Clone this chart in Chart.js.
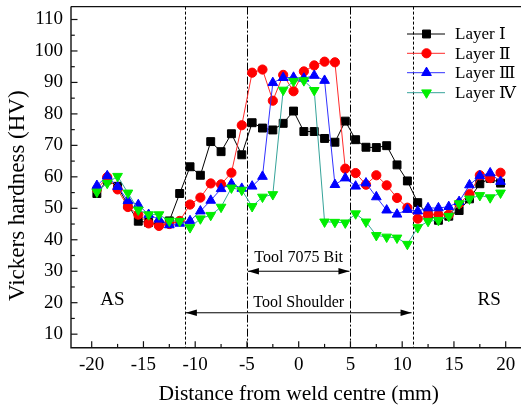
<!DOCTYPE html>
<html><head><meta charset="utf-8">
<script src="https://cdn.jsdelivr.net/npm/chart.js@4/dist/chart.umd.min.js"></script>
<style>html,body{margin:0;padding:0;background:#fff;overflow:hidden;}#wrap{width:533px;height:407px;}</style>
</head><body><div id="wrap"><canvas id="c" width="533" height="407"></canvas></div>
<script>
const distances = [-19.5,-18.5,-17.5,-16.5,-15.5,-14.5,-13.5,-12.5,-11.5,-10.5,-9.5,-8.5,-7.5,-6.5,-5.5,-4.5,-3.5,-2.5,-1.5,-0.5,0.5,1.5,2.5,3.5,4.5,5.5,6.5,7.5,8.5,9.5,10.5,11.5,12.5,13.5,14.5,15.5,16.5,17.5,18.5,19.5];
const layer1 = [54.7,59,57,51,45.9,45.5,45,46,54.7,63.2,60.5,71.2,68,73.7,67,77.2,75.5,74.9,77,80.9,74.4,74.4,72.2,71,77.7,71.8,69.4,69.3,69.9,63.8,58.7,51.8,48,46.2,47.5,49.3,53,57.8,59.5,58];
const layer2 = [56,59.9,56,50.4,48,45.2,44.4,45,46,51.2,53.4,57.9,57.6,61.3,76.4,93.1,94.1,84.2,92.4,87.2,93.5,95.4,96.6,96.4,62.6,61.2,57.5,60.5,57.3,53.3,50.2,46.7,48,48,48,51.5,54.5,60.5,59.6,61.3];
const layer3 = [57.2,60.3,56.9,52.4,51.1,48,46.5,44.7,45.2,46,49.1,52.5,56.2,57.8,56.3,57,60.1,89.9,91.5,91.6,91.3,92.2,90.6,57.5,59.6,57,58,53.6,49.4,48.1,49.6,49.1,50.1,50.1,50.5,52.1,57.4,60.3,61.2,58.5];
const layer4 = [55.2,58,60.2,54.9,49.5,48,48,46,45.9,43.9,46.7,47.8,50.4,56.5,55.8,50.6,53.6,54.4,87.6,90.4,90.6,87.5,45.7,45.6,45.4,48.3,45.7,41.4,40.9,40.6,38.6,43.9,45.9,46.2,47.5,51.5,53,54.1,53.4,54.9];
const seriesNames = ['Layer Ⅰ','Layer Ⅱ','Layer Ⅲ','Layer Ⅳ'];
const xTickValues = [-20,-15,-10,-5,0,5,10,15,20];
const xMinorValues = [-17.5,-12.5,-7.5,-2.5,2.5,7.5,12.5,17.5];
const yTickValues = [10,20,30,40,50,60,70,80,90,100,110];
const yMinorValues = [15,25,35,45,55,65,75,85,95,105];
const shoulderLines = [-11,11];
const bitLines = [-5,5];
const yTitle = 'Vickers hardness (HV)';

const lineColors = ['#000000','#ff2a2a','#3030ff','#35a39a'];
const markColors = ['#000000','#ff0000','#0000ff','#00ee00'];
const styles = ['rect','circle','triangle','triangle'];
const rotations = [0,0,0,180];
const radii = [5.6,4.6,5.6,5.6];
const allSeries = [layer1,layer2,layer3,layer4];
const SERIF = '"Liberation Serif","DejaVu Serif",serif';

function drawMarker(ctx, i, x, y){
  ctx.save();
  ctx.fillStyle = markColors[i]; ctx.strokeStyle = markColors[i]; ctx.lineWidth = 1;
  const r = radii[i];
  ctx.beginPath();
  if (styles[i]==='rect'){ const s=Math.SQRT1_2*r; ctx.rect(x-s,y-s,2*s,2*s); }
  else if (styles[i]==='circle'){ ctx.arc(x,y,r,0,Math.PI*2); }
  else { const dir = rotations[i]===180?-1:1;
    for(let k=0;k<3;k++){ const a=k*2*Math.PI/3; const px=x+Math.sin(a)*r; const py=y-dir*Math.cos(a)*r; if(k===0)ctx.moveTo(px,py); else ctx.lineTo(px,py);} ctx.closePath(); }
  ctx.fill(); ctx.stroke(); ctx.restore();
}

function arrow(ctx, x1, x2, y){
  ctx.beginPath(); ctx.moveTo(x1,y); ctx.lineTo(x2,y); ctx.stroke();
  [[x1,1],[x2,-1]].forEach(([x,d])=>{ctx.beginPath();ctx.moveTo(x,y);ctx.lineTo(x+d*11,y-3.2);ctx.lineTo(x+d*11,y+3.2);ctx.closePath();ctx.fill();});
}

const decor = {
  id:'decor',
  beforeDatasetsDraw(chart){
    const {ctx, chartArea:a, scales:{x,y}} = chart;
    ctx.save();
    ctx.strokeStyle='#000'; ctx.fillStyle='#000'; ctx.lineWidth=1;
    shoulderLines.forEach(v=>{const px=Math.round(x.getPixelForValue(v))+0.5; ctx.setLineDash([3,2]); ctx.beginPath(); ctx.moveTo(px,a.top); ctx.lineTo(px,a.bottom); ctx.stroke();});
    bitLines.forEach(v=>{const px=Math.round(x.getPixelForValue(v))+0.5; ctx.setLineDash([8,2,2,2]); ctx.beginPath(); ctx.moveTo(px,a.top); ctx.lineTo(px,a.bottom); ctx.stroke();});
    ctx.setLineDash([]);
    arrow(ctx, x.getPixelForValue(-5)+1, x.getPixelForValue(5)-1, y.getPixelForValue(30));
    arrow(ctx, x.getPixelForValue(-11)+1, x.getPixelForValue(11)-1, y.getPixelForValue(16.8));
    ctx.font = '16px '+SERIF; ctx.textAlign='center'; ctx.textBaseline='middle';
    ctx.fillText('Tool 7075 Bit', x.getPixelForValue(0), y.getPixelForValue(34.4));
    ctx.fillText('Tool Shoulder', x.getPixelForValue(0), y.getPixelForValue(20));
    ctx.font = '19px '+SERIF;
    ctx.fillText('AS', x.getPixelForValue(-18), y.getPixelForValue(21));
    ctx.fillText('RS', x.getPixelForValue(18.4), y.getPixelForValue(21));
    ctx.restore();
  },
  afterDraw(chart){
    const {ctx, chartArea:a, scales:{x,y}} = chart;
    ctx.save();
    ctx.strokeStyle='#111'; ctx.lineWidth=1.4;
    ctx.beginPath(); ctx.moveTo(a.left,a.top); ctx.lineTo(a.right,a.top); ctx.stroke();
    ctx.beginPath(); ctx.moveTo(a.left,a.top); ctx.lineTo(a.left,a.bottom); ctx.lineTo(a.right,a.bottom); ctx.stroke();
    ctx.lineWidth=1.2;
    xTickValues.forEach(v=>{const p=x.getPixelForValue(v); ctx.beginPath(); ctx.moveTo(p,a.bottom); ctx.lineTo(p,a.bottom-6.5); ctx.stroke();});
    xMinorValues.forEach(v=>{const p=x.getPixelForValue(v); ctx.beginPath(); ctx.moveTo(p,a.bottom); ctx.lineTo(p,a.bottom-3.8); ctx.stroke();});
    yTickValues.forEach(v=>{const p=y.getPixelForValue(v); ctx.beginPath(); ctx.moveTo(a.left,p); ctx.lineTo(a.left+6.5,p); ctx.stroke();});
    yMinorValues.forEach(v=>{const p=y.getPixelForValue(v); ctx.beginPath(); ctx.moveTo(a.left,p); ctx.lineTo(a.left+3.8,p); ctx.stroke();});
    // y axis title
    ctx.save();
    ctx.fillStyle='#000'; ctx.font='23px '+SERIF; ctx.textAlign='center'; ctx.textBaseline='middle';
    ctx.translate(18, y.getPixelForValue(54)); ctx.rotate(-Math.PI/2); ctx.fillText(yTitle,0,0);
    ctx.restore();
    // legend
    const rows=[34,53.3,72.7,92.7];
    ctx.font='17px '+SERIF; ctx.textAlign='left'; ctx.textBaseline='middle';
    seriesNames.forEach((n,i)=>{
      ctx.strokeStyle=lineColors[i]; ctx.lineWidth=1;
      ctx.beginPath(); ctx.moveTo(407,rows[i]); ctx.lineTo(445,rows[i]); ctx.stroke();
      drawMarker(ctx,i,426.5,rows[i]);
      ctx.fillStyle='#000'; ctx.fillText(n,455,rows[i]+1);
    });
    ctx.restore();
  }
};

const datasets = allSeries.map((s,i)=>({
  label: seriesNames[i],
  data: distances.map((d,k)=>({x:d,y:s[k]})),
  borderColor: lineColors[i], borderWidth: 1,
  backgroundColor: markColors[i],
  pointStyle: styles[i], pointRotation: rotations[i], pointRadius: radii[i],
  pointBackgroundColor: markColors[i], pointBorderColor: markColors[i], pointBorderWidth: 1,
  tension: 0, fill: false, order: 3-i
}));

new Chart(document.getElementById('c'), {
  type:'line',
  data:{datasets},
  plugins:[decor],
  options:{
    responsive:false, animation:false,
    layout:{padding:{left:0,right:1,top:6,bottom:0}},
    plugins:{legend:{display:false},tooltip:{enabled:false}},
    scales:{
      x:{type:'linear',min:-22,max:22,
        afterBuildTicks:s=>{s.ticks=xTickValues.map(v=>({value:v}));},
        grid:{display:false,drawTicks:false}, border:{display:false},
        ticks:{color:'#000',font:{family:SERIF,size:19},padding:6,maxRotation:0,autoSkip:false,callback:v=>String(v)},
        title:{display:true,text:'Distance from weld centre (mm)',color:'#000',font:{family:SERIF,size:21.5},padding:{top:0,bottom:0}},
        afterFit:s=>{s.height=59.3;s.paddingLeft=0;s.paddingRight=0;}
      },
      y:{type:'linear',min:5.7,max:114.1,
        afterBuildTicks:s=>{s.ticks=yTickValues.map(v=>({value:v}));},
        grid:{display:false,drawTicks:false}, border:{display:false},
        ticks:{color:'#000',font:{family:SERIF,size:19},padding:8,autoSkip:false,callback:v=>String(v)},
        title:{display:false},
        afterFit:s=>{s.width=71;s.paddingTop=0;s.paddingBottom=0;}
      }
    }
  }
});
</script></body></html>
